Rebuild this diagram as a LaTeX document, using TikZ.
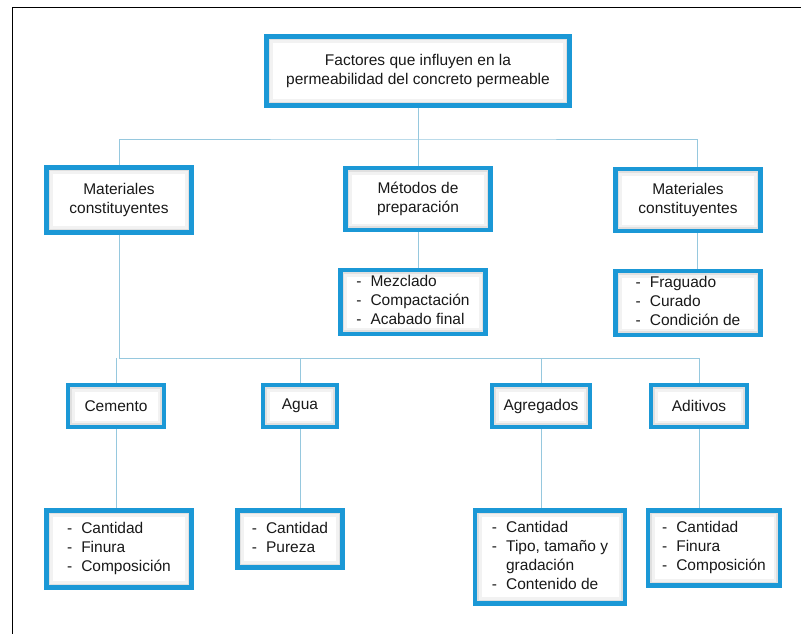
\documentclass[tikz,border=0pt]{standalone}
\usepackage{fontspec}
\setmainfont{Liberation Sans}
\usepackage{tikz}
\definecolor{boxblue}{RGB}{27, 152, 214}
\definecolor{linkblue}{RGB}{150, 200, 222}
\definecolor{textgray}{RGB}{25, 25, 25}

\begin{document}
\begin{tikzpicture}[x=1pt, y=-1pt,
    factor/.style={draw=boxblue, line width=4.3pt, fill=white, align=center,
      text=textgray, font=\fontsize{15.5}{19}\selectfont, inner sep=0pt,
      path picture={
        \draw[gray!10, line width=13pt] (path picture bounding box.south west) rectangle (path picture bounding box.north east);
        \draw[gray!24, line width=7.5pt] (path picture bounding box.south west) rectangle (path picture bounding box.north east);}},
    link/.style={draw=linkblue, line width=0.9pt}]
    \useasboundingbox (0,0) rectangle (801,633);
    \draw[black, line width=1.6pt] (12.5,7.5) rectangle (820,650);

    % top and first level
    \node[factor, minimum width=303, minimum height=69] (top) at (418,71)
        {Factores que influyen en la\\permeabilidad del concreto permeable};
    \node[factor, minimum width=145, minimum height=65] (mat) at (119,200) {Materiales\\constituyentes};
    \node[factor, minimum width=145, minimum height=62] (met) at (418,199) {Métodos de\\preparación};
    \node[factor, minimum width=145, minimum height=62] (amb) at (688,200) {Materiales\\constituyentes};

    % lists under the first level
    \node[factor, minimum width=145, minimum height=64] (metlist) at (413,302)
        {\begin{tabular}{@{}l@{\hspace{9pt}}l@{}}-&Mezclado\\-&Compactación\\-&Acabado final\end{tabular}};
    \node[factor, minimum width=145, minimum height=64] (amblist) at (688,303)
        {\begin{tabular}{@{}l@{\hspace{9pt}}l@{}}-&Fraguado\\-&Curado\\-&Condición de\end{tabular}};

    % constituents
    \node[factor, minimum width=96, minimum height=42] (cem) at (116,406) {Cemento};
    \node[factor, minimum width=74, minimum height=42] (agua) at (300,406) {Agua};
    \node[factor, minimum width=98, minimum height=42] (agr) at (541,406) {Agregados};
    \node[factor, minimum width=96, minimum height=42] (adi) at (699,406) {Aditivos};

    \node[factor, minimum width=145, minimum height=77] (cemlist) at (119,549)
        {\begin{tabular}{@{}l@{\hspace{9pt}}l@{}}-&Cantidad\\-&Finura\\-&Composición\end{tabular}};
    \node[factor, minimum width=105, minimum height=57] (agualist) at (290,539)
        {\begin{tabular}{@{}l@{\hspace{9pt}}l@{}}-&Cantidad\\-&Pureza\end{tabular}};
    \node[factor, minimum width=150, minimum height=93] (agrlist) at (550,557)
        {\begin{tabular}{@{}l@{\hspace{9pt}}l@{}}-&Cantidad\\-&Tipo, tamaño y\\&gradación\\-&Contenido de\end{tabular}};
    \node[factor, minimum width=132, minimum height=75] (adilist) at (714,548)
        {\begin{tabular}{@{}l@{\hspace{9pt}}l@{}}-&Cantidad\\-&Finura\\-&Composición\end{tabular}};

    % connectors
    \coordinate (j1) at (418,139);
    \coordinate (j2) at (699,358);
    \draw[link] (top.south) -- (j1);
    \draw[link] (mat.north) |- (j1) -| ([xshift=9pt]amb.north);
    \draw[link] (met.north) -- (j1);
    \draw[link] (met.south) -- (met.south |- metlist.north);
    \draw[link] ([xshift=9pt]amb.south) -- ([xshift=9pt]amb.south |- amblist.north);
    \draw[link] (mat.south) |- (j2) -- (adi.north);
    \draw[link] (cem.north) -- (cem.north |- j2);
    \draw[link] (agua.north) -- (agua.north |- j2);
    \draw[link] (agr.north) -- (agr.north |- j2);
    \draw[link] (cem.south) -- (cem.south |- cemlist.north);
    \draw[link] (agua.south) -- (agua.south |- agualist.north);
    \draw[link] (agr.south) -- (agr.south |- agrlist.north);
    \draw[link] (adi.south) -- (adi.south |- adilist.north);
\end{tikzpicture}
\end{document}
